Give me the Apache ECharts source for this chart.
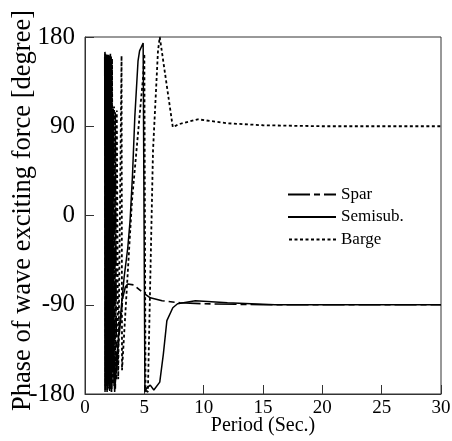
<!DOCTYPE html>
<html>
<head>
<meta charset="utf-8">
<script src="https://cdn.jsdelivr.net/npm/echarts@6/dist/echarts.min.js"></script>
<style>
  html, body { margin: 0; padding: 0; background: #fff; }
</style>
</head>
<body>
<div id="chart" style="width: 452px; height: 441px;"></div>
<script>
  // period (sec.) and phase (degree) for each floater
  var sparPeriod = [1.68, 1.71, 1.74, 1.78, 1.82, 1.86, 1.9, 1.94, 1.98, 2.02, 2.06, 2.1, 2.14, 2.18, 2.24, 2.3, 2.38, 2.46, 2.55, 2.65, 2.75,
    2.95, 3.2, 3.4, 3.6, 4.1, 4.8, 5.5, 6.5, 8, 10, 15, 20, 25, 30];
  var sparPhase = [165, -176, 160, -170, 164, -178, 158, -165, 162, -172, 157, -168, 163, -175, 150, -160, 108, -172, 104, -165, -140,
    -111, -82, -72, -69, -70, -77, -83, -86, -88, -89, -90, -90, -90, -90];

  var semiPeriod = [1.66, 1.69, 1.73, 1.76, 1.8, 1.84, 1.88, 1.92, 1.96, 2.0, 2.04, 2.08, 2.12, 2.16, 2.2, 2.26, 2.32, 2.4, 2.5,
    2.7, 3.0, 3.3, 3.6, 3.8, 4.0, 4.2, 4.47, 4.6, 4.9, 5.05, 5.2, 5.5, 5.8, 6.3, 6.6, 6.9, 7.4, 7.8, 9.3, 12, 16, 20, 25, 30];
  var semiPhase = [160, -178, 163, -172, 158, -168, 162, -175, 159, -170, 161, -177, 156, -166, 160, -175, 106, -150, -178,
    -140, -100, -62, -33, -5, 40, 100, 156, 166, 174, -178, -174, -171, -176, -168, -140, -106, -93, -89, -86, -88, -90, -90, -90, -90];

  var bargePeriod = [1.7, 1.73, 1.77, 1.81, 1.85, 1.89, 1.93, 1.97, 2.01, 2.05, 2.09, 2.13, 2.18, 2.23, 2.28, 2.36, 2.45, 2.55, 2.68, 2.8,
    3.08, 3.12, 3.96, 4.89, 5.0, 5.1, 5.3, 5.73, 6.15, 6.3, 7.4, 7.9, 9.5, 12, 15, 20, 25, 30];
  var bargePhase = [163, -172, 161, -168, 160, -176, 158, -170, 162, -174, 159, -166, 161, -178, 158, -170, 110, -175, 106, -165,
    161, -156, 15, 139, 163, -176, -178, 65, 166, 180, 89, 92, 97, 93, 91, 90, 90, 90];

  var phaseTicks = ['-180', '-90', '0', '90', '180'];

  function pairs(xs, ys) {
    return xs.map(function (x, i) { return [x, ys[i]]; });
  }

  var font = 'Liberation Serif';
  var myChart = echarts.init(document.getElementById('chart'));
  myChart.setOption({
    animation: false,
    grid: { left: 85, right: 11, top: 37, bottom: 47, outerBoundsMode: 'none', containLabel: false },
    legend: {
      orient: 'vertical',
      left: 287,
      top: 185,
      padding: 0,
      itemWidth: 48,
      itemHeight: 10,
      itemGap: 3.5,
      itemStyle: { opacity: 0 },
      textStyle: { fontFamily: font, fontSize: 17, color: '#000', lineHeight: 19 },
      data: ['Spar', 'Semisub.', 'Barge']
    },
    xAxis: {
      type: 'value',
      min: 0,
      max: 30,
      interval: 5,
      name: 'Period (Sec.)',
      nameLocation: 'middle',
      nameGap: 22,
      nameMoveOverlap: false,
      nameTextStyle: { fontFamily: font, fontSize: 20, color: '#000' },
      axisLine: { onZero: false, lineStyle: { color: '#333', width: 1 } },
      axisTick: { inside: true, length: 9, lineStyle: { color: '#333' } },
      axisLabel: { fontFamily: font, fontSize: 19, color: '#000', margin: 5 },
      splitLine: { show: false }
    },
    yAxis: {
      type: 'value',
      min: -180,
      max: 180,
      interval: 90,
      name: 'Phase of wave exciting force [degree]',
      nameLocation: 'middle',
      nameGap: 48,
      nameMoveOverlap: false,
      nameTextStyle: { fontFamily: font, fontSize: 26.5, color: '#000', padding: [0, 0, 0, 10] },
      axisLine: { show: true, onZero: false, lineStyle: { color: '#333', width: 1 } },
      axisTick: { inside: true, length: 9, lineStyle: { color: '#333' } },
      axisLabel: {
        fontFamily: font, fontSize: 25, color: '#000', margin: 10,
        formatter: function (v) { return phaseTicks[(v + 180) / 90]; }
      },
      splitLine: { show: false }
    },
    graphic: [{
      type: 'rect',
      shape: { x: 85, y: 37, width: 356, height: 357 },
      style: { fill: 'none', stroke: '#333', lineWidth: 1 },
      silent: true
    }],
    series: [
      {
        name: 'Spar',
        type: 'line',
        symbol: 'none',
        color: '#000',
        data: pairs(sparPeriod, sparPhase),
        lineStyle: { color: '#000', width: 1.6, type: [6, 4, 22, 4], dashOffset: 10 }
      },
      {
        name: 'Semisub.',
        type: 'line',
        symbol: 'none',
        color: '#000',
        data: pairs(semiPeriod, semiPhase),
        lineStyle: { color: '#000', width: 1.5, type: 'solid' }
      },
      {
        name: 'Barge',
        type: 'line',
        symbol: 'none',
        color: '#000',
        data: pairs(bargePeriod, bargePhase),
        lineStyle: { color: '#000', width: 1.8, type: [3, 2.5] }
      }
    ]
  });
</script>
</body>
</html>
